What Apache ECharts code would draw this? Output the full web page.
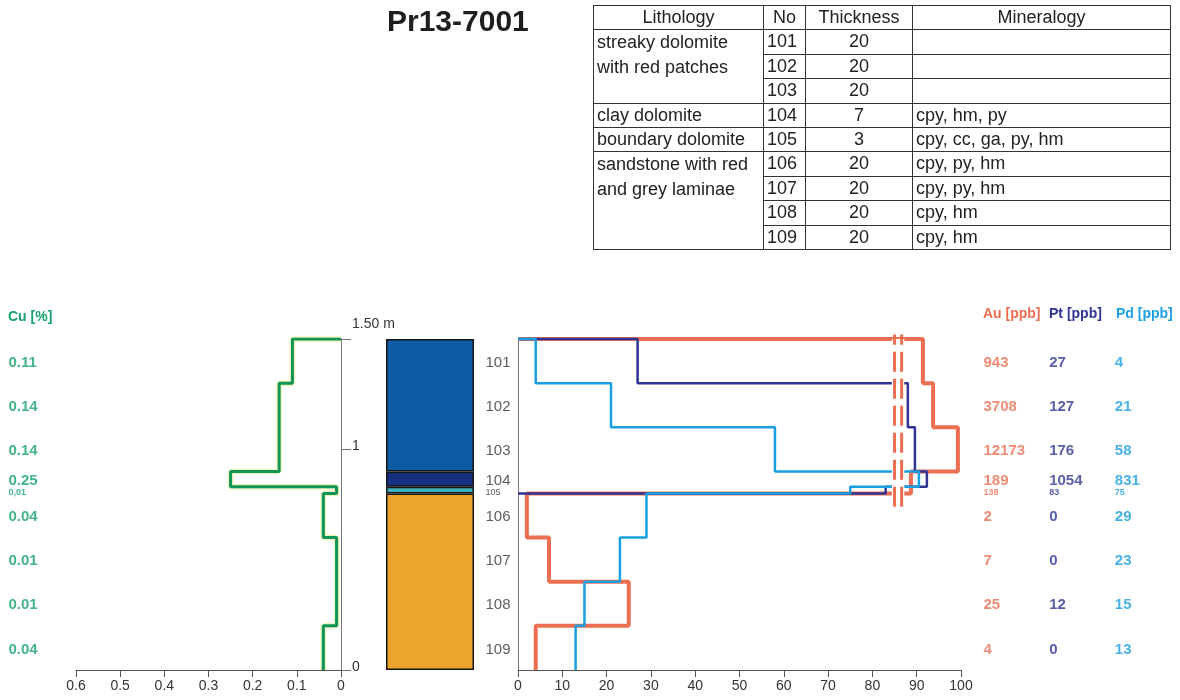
<!DOCTYPE html>
<html><head><meta charset="utf-8">
<script src="https://cdn.jsdelivr.net/npm/echarts@6/dist/echarts.min.js"></script>
<style>
html,body{margin:0;padding:0;background:#fff;}
#wrap{position:relative;width:1180px;height:700px;font-family:"Liberation Sans",Arial,sans-serif;overflow:hidden;}
#chart{position:absolute;left:0;top:0;width:1180px;height:700px;}
#tbl{position:absolute;left:593px;top:5px;border-collapse:collapse;table-layout:fixed;font-size:18px;color:#222;border:1.5px solid #333;}
#tbl td,#tbl th{border:1px solid #333;padding:0 3px;height:23.4px;line-height:23.4px;font-weight:normal;white-space:pre-line;overflow:hidden;}
#tbl th{text-align:center;}
#tbl td.c{text-align:center;}
#tbl td.l{vertical-align:top;}
#tbl td.l2{vertical-align:top;line-height:24.4px;}
</style></head>
<body><div id="wrap"><div id="chart"></div><table id="tbl"></table></div>
<script>
// ---------------- data ----------------
const tableHeaders = ['Lithology', 'No', 'Thickness', 'Mineralogy'];
const lithology = ['streaky dolomite\nwith red patches', 'clay dolomite', 'boundary dolomite', 'sandstone with red\nand grey laminae'];
const lithoSampleCount = [3, 1, 1, 4];
const samples = ['101', '102', '103', '104', '105', '106', '107', '108', '109'];
const thicknessCm = [20, 20, 20, 7, 3, 20, 20, 20, 20];
const mineralogy = ['', '', '', 'cpy, hm, py', 'cpy, cc, ga, py, hm', 'cpy, py, hm', 'cpy, py, hm', 'cpy, hm', 'cpy, hm'];

const cuValues = [0.11, 0.14, 0.14, 0.25, 0.01, 0.04, 0.01, 0.01, 0.04];
const cuLabels = ['0.11', '0.14', '0.14', '0.25', '0,01', '0.04', '0.01', '0.01', '0.04'];

const auLabels = ['943', '3708', '12173', '189', '138', '2', '7', '25', '4'];
const ptLabels = ['27', '127', '176', '1054', '83', '0', '0', '12', '0'];
const pdLabels = ['4', '21', '58', '831', '75', '29', '23', '15', '13'];
// positions as plotted on the 0-100 axis (axis is broken above ~85)
const auPlot = [91.4, 93.7, 99.3, 88.7, 88.7, 2, 7, 25, 4];
const ptPlot = [27, 88, 89.6, 92.3, 83, null, null, null, null];
const pdPlot = [4, 21, 58, 90.5, 75, 29, 23, 15, 13];

const depthTotal = 1.5;             // m
const depthTickValues = [0, 1, 1.5];
const depthLabelValues = [0, 1];
const breakAt = [85.0, 86.6];

// ---------------- table ----------------
(function buildTable() {
  const t = document.getElementById('tbl');
  const widths = [170, 42, 107, 258];
  let html = '<colgroup>' + widths.map(w => '<col style="width:' + w + 'px">').join('') + '</colgroup>';
  html += '<tr>' + tableHeaders.map(h => '<th>' + h + '</th>').join('') + '</tr>';
  let s = 0;
  lithology.forEach((lith, li) => {
    for (let k = 0; k < lithoSampleCount[li]; k++) {
      html += '<tr>';
      if (k === 0) html += '<td class="' + (lithoSampleCount[li] > 1 ? 'l2' : 'l') + '" rowspan="' + lithoSampleCount[li] + '">' + lith + '</td>';
      html += '<td>' + samples[s] + '</td><td class="c">' + thicknessCm[s] + '</td><td>' + mineralogy[s] + '</td></tr>';
      s++;
    }
  });
  t.innerHTML = html;
})();

// ---------------- depth geometry ----------------
const bounds = [depthTotal];
thicknessCm.forEach((t, i) => bounds.push(Math.round((bounds[i] - t / 100) * 1000) / 1000));
const centers = samples.map((_, i) => (bounds[i] + bounds[i + 1]) / 2);

function stepPoints(vals) {
  const pts = [[0, bounds[0]]];
  for (let i = 0; i < vals.length; i++) {
    if (vals[i] == null) { pts.push([0, bounds[i]]); break; }
    pts.push([vals[i], bounds[i]], [vals[i], bounds[i + 1]]);
  }
  return pts;
}

const lithoThick = [];
{ let s = 0; lithoSampleCount.forEach(c => { let sum = 0; for (let k = 0; k < c; k++) sum += thicknessCm[s++]; lithoThick.push(sum / 100); }); }
const lithoColors = ['#0c5ba3', '#16307f', '#3aaebb', '#eca42c'];

const FONT = '"Liberation Sans", Arial, sans-serif';
const cuColor = '#15a26c';
const auColor = '#ec6f52', ptColor = '#2e3593', pdColor = '#1a9fe2';

function labelSeries(xIdx, yIdx, xVal, texts, color, bold, size, smallSize) {
  return {
    type: 'scatter', xAxisIndex: xIdx, yAxisIndex: yIdx, symbolSize: 1, silent: true,
    itemStyle: { color: 'rgba(0,0,0,0)' },
    data: texts.map((txt, i) => ({
      value: [xVal, centers[i]],
      label: {
        show: true, position: 'right', distance: 0, formatter: txt, offset: [0, i === 4 ? 2 : 1.5],
        color: color, fontFamily: FONT, fontWeight: bold ? 'bold' : 'normal',
        fontSize: i === 4 ? smallSize : size, align: 'left', verticalAlign: 'middle'
      }
    }))
  };
}

const hiddenX = (g, max) => ({ gridIndex: g, type: 'value', min: 0, max: max, show: false });
const hiddenY = g => ({ gridIndex: g, type: 'value', min: 0, max: depthTotal, show: false });

const chart = echarts.init(document.getElementById('chart'), null, { renderer: 'canvas' });
const option = {
  animation: false,
  backgroundColor: '#ffffff',
  textStyle: { fontFamily: FONT },
  grid: [
    { left: 76, top: 339, width: 265, height: 331 },   // 0 Cu
    { left: 386, top: 339, width: 88, height: 331 },   // 1 column
    { left: 518, top: 339, width: 443, height: 331 },  // 2 Au/Pt/Pd
    { left: 8, top: 339, width: 40, height: 331 },     // 3 Cu labels
    { left: 485, top: 339, width: 30, height: 331 },   // 4 sample labels
    { left: 983, top: 339, width: 200, height: 331 }   // 5 metal labels
  ],
  xAxis: [
    { gridIndex: 0, type: 'value', min: 0, max: 0.6, interval: 0.1, inverse: true,
      axisLine: { show: true, lineStyle: { color: '#555', width: 1.2 } },
      axisTick: { show: true, length: 7, lineStyle: { color: '#555' } },
      axisLabel: { color: '#333', fontSize: 14, margin: 9, formatter: v => v === 0 ? '0' : v.toFixed(1) },
      splitLine: { show: false } },
    { gridIndex: 1, type: 'category', data: ['column'], show: false },
    { gridIndex: 2, type: 'value', min: 0, max: 100, interval: 10,
      axisLine: { show: true, lineStyle: { color: '#555', width: 1.2 } },
      axisTick: { show: true, length: 7, lineStyle: { color: '#555' } },
      axisLabel: { color: '#333', fontSize: 14, margin: 9 },
      splitLine: { show: false } },
    hiddenX(3, 1), hiddenX(4, 1), hiddenX(5, 3)
  ],
  yAxis: [
    { gridIndex: 0, type: 'value', min: 0, max: depthTotal, interval: 0.5, position: 'right',
      axisLine: { show: true, lineStyle: { color: '#777', width: 1 } },
      axisTick: { show: true, length: 10, customValues: depthTickValues, lineStyle: { color: '#777' } },
      axisLabel: { show: true, customValues: depthLabelValues, margin: 11, color: '#333', fontSize: 14,
        verticalAlign: 'bottom', lineHeight: 6, formatter: v => String(v) },
      splitLine: { show: false } },
    hiddenY(1),
    { gridIndex: 2, type: 'value', min: 0, max: depthTotal, position: 'left',
      axisLine: { show: true, lineStyle: { color: '#777', width: 1 } },
      axisTick: { show: false }, axisLabel: { show: false }, splitLine: { show: false } },
    hiddenY(3), hiddenY(4), hiddenY(5)
  ],
  graphic: [
    { type: 'text', left: 387, top: 8, style: { text: 'Pr13-7001', fill: '#1e1e1e', font: 'bold 30px ' + FONT } },
    { type: 'text', left: 352, top: 317, style: { text: '1.50 m', fill: '#333', font: '14px ' + FONT } },
    { type: 'text', left: 8, top: 310, style: { text: 'Cu [%]', fill: cuColor, font: 'bold 14px ' + FONT } },
    { type: 'text', left: 983, top: 307, style: { text: 'Au [ppb]', fill: auColor, font: 'bold 14px ' + FONT } },
    { type: 'text', left: 1049, top: 307, style: { text: 'Pt [ppb]', fill: ptColor, font: 'bold 14px ' + FONT } },
    { type: 'text', left: 1116, top: 307, style: { text: 'Pd [ppb]', fill: pdColor, font: 'bold 14px ' + FONT } }
  ],
  series: []
};

// Cu profile (soft yellow halo + green line)
option.series.push({ type: 'line', xAxisIndex: 0, yAxisIndex: 0, data: stepPoints(cuValues), symbol: 'none', silent: true,
  lineStyle: { color: 'rgba(225,232,120,0.55)', width: 5.5 }, z: 1 });
option.series.push({ type: 'line', xAxisIndex: 0, yAxisIndex: 0, data: stepPoints(cuValues), symbol: 'none', silent: true,
  lineStyle: { color: '#0f955a', width: 3 }, z: 2 });

// lithology column (stacked from the bottom)
for (let li = lithology.length - 1; li >= 0; li--) {
  option.series.push({ type: 'bar', xAxisIndex: 1, yAxisIndex: 1, stack: 'col', barWidth: '100%', silent: true,
    data: [lithoThick[li]], itemStyle: { color: lithoColors[li], borderColor: '#151515', borderWidth: 1.5 } });
}

// Au / Pt / Pd profiles
option.series.push({ type: 'line', xAxisIndex: 2, yAxisIndex: 2, data: stepPoints(auPlot), symbol: 'none', silent: true, clip: false,
  lineStyle: { color: auColor, width: 4 }, z: 2 });
option.series.push({ type: 'line', xAxisIndex: 2, yAxisIndex: 2, data: stepPoints(ptPlot), symbol: 'none', silent: true, clip: false,
  lineStyle: { color: ptColor, width: 2.5 }, z: 3 });
option.series.push({ type: 'line', xAxisIndex: 2, yAxisIndex: 2, data: stepPoints(pdPlot), symbol: 'none', silent: true, clip: false,
  lineStyle: { color: pdColor, width: 2.5 }, z: 4 });

// axis break
breakAt.forEach((b, k) => {
  const s = { type: 'line', xAxisIndex: 2, yAxisIndex: 2, data: [[b, 0.74], [b, 1.52]], symbol: 'none', silent: true, clip: false,
    lineStyle: { color: auColor, width: 3, type: [20, 7] }, z: 11 };
  if (k === 0) {
    s.markArea = { silent: true, z: 10, itemStyle: { color: '#ffffff' },
      data: [[{ coord: [breakAt[0] - 0.6, 0.74] }, { coord: [breakAt[1] + 0.6, 1.5] }]] };
  }
  option.series.push(s);
});

// text columns
option.series.push(labelSeries(3, 3, 0, cuLabels, cuColor, true, 15, 9));
option.series.push(labelSeries(4, 4, 0, samples, '#333', false, 15, 9));
option.series.push(labelSeries(5, 5, 0, auLabels, auColor, true, 15, 9));
option.series.push(labelSeries(5, 5, 1, ptLabels, ptColor, true, 15, 9));
option.series.push(labelSeries(5, 5, 2, pdLabels, pdColor, true, 15, 9));

chart.setOption(option);
</script>
</body></html>
